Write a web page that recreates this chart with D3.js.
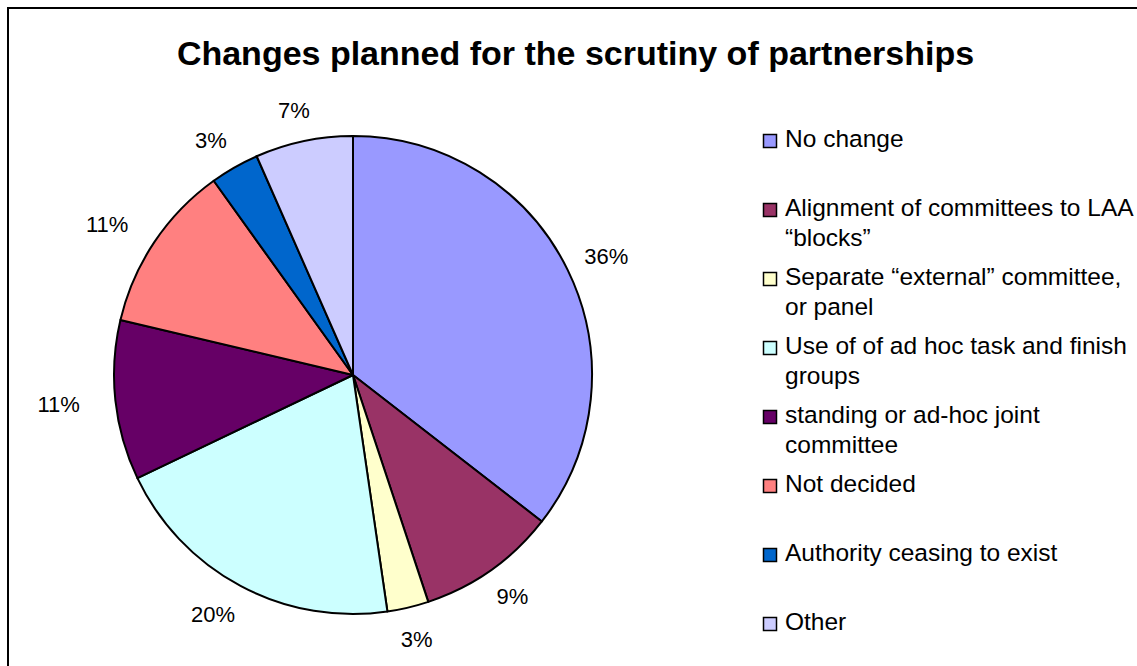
<!DOCTYPE html>
<html>
<head>
<meta charset="utf-8">
<script src="https://cdn.jsdelivr.net/npm/d3@7"></script>
<style>
  html, body { margin: 0; padding: 0; background: #fff; }
  svg { display: block; font-family: Arial, "Liberation Sans", sans-serif; }
</style>
</head>
<body>
<svg id="chart" width="1137" height="666"></svg>
<script>
// Survey responses: share of authorities (percent) by planned change
const categories = [
  "No change",
  "Alignment of committees to LAA \u201cblocks\u201d",
  "Separate \u201cexternal\u201d committee, or panel",
  "Use of of ad hoc task and finish groups",
  "standing or ad-hoc joint committee",
  "Not decided",
  "Authority ceasing to exist",
  "Other"
];
const shares = [35.5, 9.4, 2.8, 20.2, 10.8, 11.4, 3.3, 6.6];
const legendLines = [
  ["No change"],
  ["Alignment of committees to LAA", "\u201cblocks\u201d"],
  ["Separate \u201cexternal\u201d committee,", "or panel"],
  ["Use of of ad hoc task and finish", "groups"],
  ["standing or ad-hoc joint", "committee"],
  ["Not decided"],
  ["Authority ceasing to exist"],
  ["Other"]
];
const sliceColors = ["#9999FF", "#993366", "#FFFFCC", "#CCFFFF", "#660066", "#FF8080", "#0066CC", "#CCCCFF"];
const titleText = "Changes planned for the scrutiny of partnerships";

const svg = d3.select("#chart");
const data = categories.map((c, i) => ({ name: c, value: shares[i], color: sliceColors[i], lines: legendLines[i] }));
const total = d3.sum(shares);

// outer chart frame
svg.append("rect")
  .attr("x", 8).attr("y", 8)
  .attr("width", 1160).attr("height", 700)
  .attr("fill", "#fff")
  .attr("stroke", "#000").attr("stroke-width", 2);

// title
svg.append("text")
  .attr("x", 575.5).attr("y", 65)
  .attr("text-anchor", "middle")
  .attr("font-weight", "bold")
  .attr("font-size", 34)
  .attr("fill", "#000")
  .text(titleText);

// pie
const cx = 353, cy = 375, radius = 239;
const pie = d3.pie().sort(null).value(d => d.value);
const arcs = pie(data);
const arc = d3.arc().innerRadius(0).outerRadius(radius);

const g = svg.append("g").attr("transform", `translate(${cx},${cy})`);
g.selectAll("path.slice")
  .data(arcs)
  .join("path")
  .attr("class", "slice")
  .attr("d", arc)
  .attr("fill", d => d.data.color)
  .attr("stroke", "#000")
  .attr("stroke-width", 2)
  .attr("stroke-linejoin", "round");

// percentage labels placed just outside the rim
const labelR = 260;
const pctFormat = v => Math.round(v / total * 100) + "%";
const labels = g.selectAll("text.pct")
  .data(arcs)
  .join("text")
  .attr("class", "pct")
  .attr("font-size", 22)
  .attr("fill", "#000")
  .attr("text-anchor", "middle")
  .text(d => pctFormat(d.data.value));

labels.each(function(d) {
  const a = (d.startAngle + d.endAngle) / 2;
  const w = this.getComputedTextLength();
  const s = Math.sin(a), c = -Math.cos(a);
  // push the label box away from the pie; left-hand labels sit a bit further out
  const x = labelR * s + s * w / 2 + (s < 0 ? s * w * 0.35 : 0);
  const y = labelR * c + c * 11;
  d3.select(this).attr("x", x).attr("y", y + 8);
});

// legend
const legendX = 763, legendY0 = 139, legendStep = 69, lineGap = 30;
const legend = svg.append("g");
const items = legend.selectAll("g.item")
  .data(data)
  .join("g")
  .attr("class", "item")
  .attr("transform", (d, i) => `translate(${legendX},${legendY0 + i * legendStep})`);

items.append("rect")
  .attr("x", 0.5).attr("y", -4.5)
  .attr("width", 13).attr("height", 13)
  .attr("fill", d => d.color)
  .attr("stroke", "#000").attr("stroke-width", 1.5);

items.append("text")
  .attr("font-size", 24.5)
  .attr("fill", "#000")
  .selectAll("tspan")
  .data(d => d.lines)
  .join("tspan")
  .attr("x", 22)
  .attr("y", (l, j) => j * lineGap + 8)
  .text(l => l);
</script>
</body>
</html>
